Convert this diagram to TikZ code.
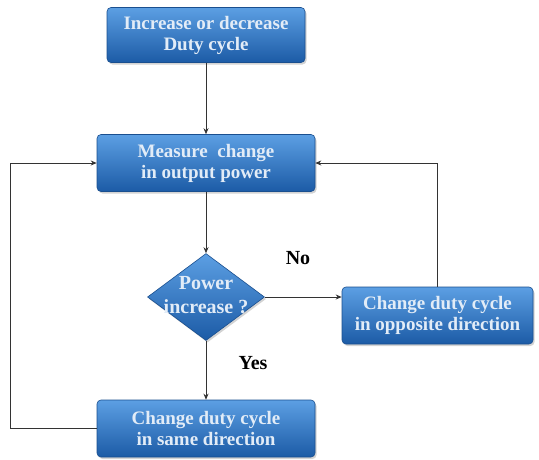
\documentclass[tikz,border=0pt]{standalone}
\usepackage{fontspec}
\setmainfont{Liberation Serif}
\usetikzlibrary{shapes.geometric,shadows,arrows.meta}
\definecolor{boxtop}{HTML}{5C9FE3}
\definecolor{boxbot}{HTML}{1C5BA6}
\definecolor{boxline}{HTML}{1A4F8F}
\definecolor{boxtext}{HTML}{E2ECF7}
\definecolor{linec}{HTML}{333333}
\tikzset{
  x=1pt, y=-1pt,
  flowbox/.style={draw=boxline, line width=0.6pt, rounded corners=4pt,
    top color=boxtop, bottom color=boxbot,
    drop shadow={shadow xshift=1.5pt, shadow yshift=-2pt, opacity=0.35},
    text=boxtext, font=\fontsize{19}{21}\selectfont\bfseries, align=center,
    inner sep=0pt},
  decbox/.style={draw=boxline, line width=0.6pt, diamond,
    top color=boxtop, bottom color=boxbot,
    drop shadow={shadow xshift=1.5pt, shadow yshift=-2pt, opacity=0.35},
    minimum width=117pt, minimum height=87pt, inner sep=0pt},
  dectext/.style={text=boxtext, font=\fontsize{20}{24}\selectfont\bfseries, align=center, inner sep=0pt},
  arr/.style={draw=linec, line width=0.8pt, -{Stealth[length=6pt,width=5pt]}},
  lab/.style={font=\fontsize{20}{22}\selectfont\bfseries, text=black}
}
\begin{document}
\begin{tikzpicture}
\useasboundingbox (0,0) rectangle (539,459);
\node[flowbox, minimum width=198pt, minimum height=55pt] (a) at (206,35) {Increase or decrease\\Duty cycle};
\node[flowbox, minimum width=218pt, minimum height=57pt] (m) at (206,163) {Measure\ \ change\\in output power};
\node[decbox] (d) at (206,297) {};
\node[dectext] (dt) at (206,295) {Power\\increase ?};
\node[flowbox, minimum width=191pt, minimum height=57pt] (r) at (437.5,315.5) {Change duty cycle\\in opposite direction};
\node[flowbox, minimum width=218pt, minimum height=57pt] (b) at (206,428.5) {Change duty cycle\\in same direction};
\coordinate (lc) at (10,0);
\node[lab] (no) at (298,258) {No};
\node[lab] (yes) at (253,363) {Yes};
\draw[arr] (a.south) -- (m.north);
\draw[arr] (m.south) -- (d.north);
\draw[arr] (d.south) -- (b.north);
\draw[arr] (d.east) -- (d.east -| r.west);
\draw[arr] (r.north) |- (m.east);
\draw[arr] (b.west) -- (b.west -| lc) |- (m.west);
\end{tikzpicture}
\end{document}
